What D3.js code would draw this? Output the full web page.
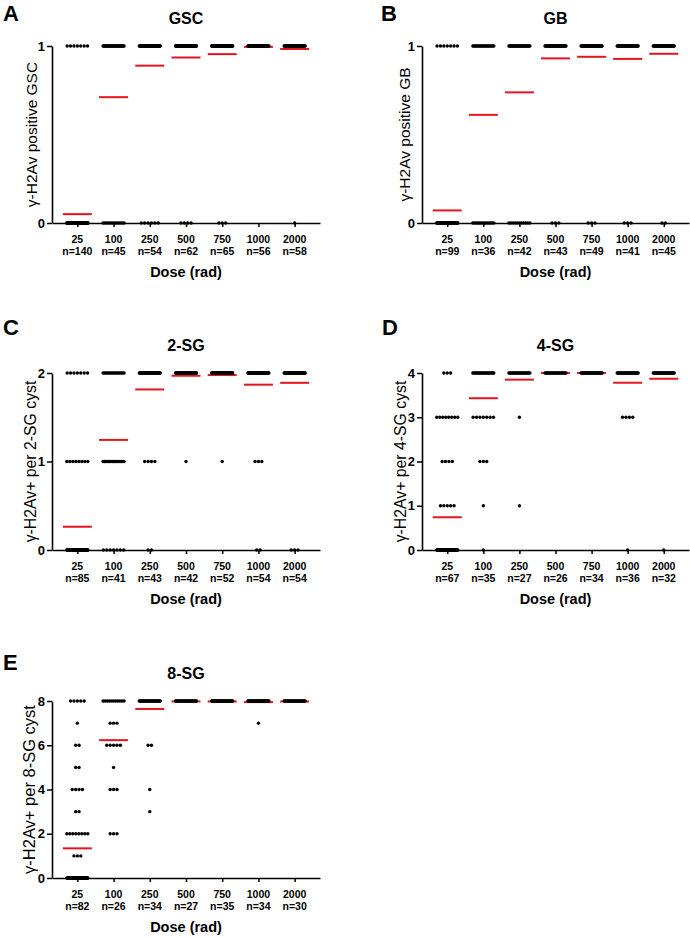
<!DOCTYPE html>
<html><head><meta charset="utf-8">
<script src="https://cdn.jsdelivr.net/npm/d3@7/dist/d3.min.js"></script>
<style>
body{margin:0;background:#fff}
svg text{font-family:"Liberation Sans",Arial,Helvetica,sans-serif;fill:#000}
</style>
</head><body>
<svg id="chart" width="690" height="938"></svg>
<script>
// ---------- DATA ----------
const doses = ["25", "100", "250", "500", "750", "1000", "2000"];

// A: GSC (rows = counts at y-level 0, 1)
const gscN = [140, 45, 54, 62, 65, 56, 58];
const gscCounts = [
  [133, 13, 6, 4, 3, 0, 1],   // value 0
  [7, 32, 48, 58, 62, 56, 57] // value 1
];
const gscMean = [0.05, 0.711, 0.889, 0.935, 0.954, 0.995, 0.983];

// B: GB
const gbN = [99, 36, 42, 43, 49, 41, 45];
const gbCounts = [
  [92, 14, 11, 3, 3, 3, 2],
  [7, 22, 31, 40, 46, 38, 43]
];
const gbMean = [0.071, 0.611, 0.738, 0.930, 0.939, 0.927, 0.956];

// C: 2-SG (values 0..2)
const sg2N = [85, 41, 43, 42, 52, 54, 54];
const sg2Counts = [
  [70, 7, 2, 0, 0, 2, 3],
  [8, 17, 4, 1, 1, 3, 0],
  [7, 17, 37, 41, 51, 49, 51]
];
const sg2Mean = [0.263, 1.244, 1.814, 1.969, 1.977, 1.868, 1.889];

// D: 4-SG (values 0..4)
const sg4N = [67, 35, 27, 26, 34, 36, 32];
const sg4Counts = [
  [47, 1, 0, 0, 0, 1, 1],
  [5, 1, 1, 0, 0, 0, 0],
  [4, 3, 0, 0, 0, 0, 0],
  [8, 7, 1, 0, 0, 4, 0],
  [3, 23, 25, 26, 34, 31, 31]
];
const sg4Mean = [0.74, 3.43, 3.85, 4.0, 4.0, 3.78, 3.87];

// E: 8-SG (values 0..8)
const sg8N = [82, 26, 34, 27, 35, 34, 30];
const sg8Counts = [
  [55, 0, 0, 0, 0, 0, 0],
  [3, 0, 0, 0, 0, 0, 0],
  [8, 3, 0, 0, 0, 0, 0],
  [2, 0, 1, 0, 0, 0, 0],
  [4, 3, 1, 0, 0, 0, 0],
  [2, 1, 0, 0, 0, 0, 0],
  [2, 5, 2, 0, 0, 0, 0],
  [1, 3, 0, 0, 0, 1, 0],
  [5, 11, 30, 27, 35, 33, 30]
];
const sg8Mean = [1.34, 6.23, 7.64, 7.98, 7.98, 7.95, 7.98];

const panels = [
  {letter: "A", title: "GSC", ylabel: "\u03b3-H2Av positive GSC", n: gscN, counts: gscCounts, mean: gscMean, yMax: 1, yTicks: [0, 1]},
  {letter: "B", title: "GB", ylabel: "\u03b3-H2Av positive GB", n: gbN, counts: gbCounts, mean: gbMean, yMax: 1, yTicks: [0, 1]},
  {letter: "C", title: "2-SG", ylabel: "\u03b3-H2Av+ per 2-SG cyst", n: sg2N, counts: sg2Counts, mean: sg2Mean, yMax: 2, yTicks: [0, 1, 2]},
  {letter: "D", title: "4-SG", ylabel: "\u03b3-H2Av+ per 4-SG cyst", n: sg4N, counts: sg4Counts, mean: sg4Mean, yMax: 4, yTicks: [0, 1, 2, 3, 4]},
  {letter: "E", title: "8-SG", ylabel: "\u03b3-H2Av+ per 8-SG cyst", n: sg8N, counts: sg8Counts, mean: sg8Mean, yMax: 8, yTicks: [0, 2, 4, 6, 8]}
];

// ---------- LAYOUT ----------
const layouts = [
  {x0: 52, x1: 320, top: 46, bottom: 223, lx: 3, ly: 21, labX: 37, labFs: 15.5},
  {x0: 422, x1: 689, top: 46, bottom: 223, lx: 381, ly: 21, labX: 410, labFs: 15.5},
  {x0: 52, x1: 320, top: 373, bottom: 550, lx: 3, ly: 335, labX: 36, labFs: 15.8},
  {x0: 422, x1: 689, top: 373, bottom: 550, lx: 382, ly: 335, labX: 406, labFs: 15.8},
  {x0: 52, x1: 320, top: 701, bottom: 878, lx: 3, ly: 670, labX: 35, labFs: 16.5}
];

const svg = d3.select("#chart");
const RED = "#e3161e";
const DOT_R = 1.7, DOT_GAP = 3.4, MAX_SPAN = 21, MEAN_HALF = 14.5;

panels.forEach((p, i) => {
  const L = layouts[i];
  const g = svg.append("g");
  const x = d3.scalePoint().domain(doses).range([L.x0, L.x1]).padding(0.7);
  const y = d3.scaleLinear().domain([0, p.yMax]).range([L.bottom, L.top]);

  // panel letter
  g.append("text").attr("x", L.lx).attr("y", L.ly)
    .attr("font-size", 22).attr("font-weight", "bold").text(p.letter);
  // title
  g.append("text").attr("x", (L.x0 + L.x1) / 2).attr("y", L.top - 22)
    .attr("text-anchor", "middle").attr("font-size", 16).attr("font-weight", "bold").text(p.title);

  // x axis
  const xa = g.append("g").attr("transform", `translate(0,${L.bottom})`)
    .call(d3.axisBottom(x).tickSize(4).tickSizeOuter(0).tickFormat(""));
  // y axis
  const ya = g.append("g").attr("transform", `translate(${L.x0},0)`)
    .call(d3.axisLeft(y).tickValues(p.yTicks).tickSize(5).tickSizeOuter(0).tickPadding(2).tickFormat(d3.format("d")));
  [xa, ya].forEach(a => {
    a.attr("font-family", null);
    a.select(".domain").attr("stroke", "#000").attr("stroke-width", 1.6);
    a.selectAll(".tick line").attr("stroke", "#000").attr("stroke-width", 1.5);
  });
  ya.selectAll(".tick text").attr("font-size", 13).attr("font-weight", "bold").attr("fill", "#000");

  // x tick labels (dose + n)
  const lab = g.append("g");
  lab.selectAll("text.dose").data(doses).join("text").attr("class", "dose")
    .attr("x", d => x(d)).attr("y", L.bottom + 20).attr("text-anchor", "middle")
    .attr("font-size", 10.5).attr("font-weight", "bold").text(d => d);
  lab.selectAll("text.n").data(p.n).join("text").attr("class", "n")
    .attr("x", (d, j) => x(doses[j])).attr("y", L.bottom + 32).attr("text-anchor", "middle")
    .attr("font-size", 10.5).attr("font-weight", "bold").text(d => "n=" + d);

  // axis titles
  g.append("text").attr("x", (L.x0 + L.x1) / 2).attr("y", L.bottom + 54)
    .attr("text-anchor", "middle").attr("font-size", 14.5).attr("font-weight", "bold").text("Dose (rad)");
  g.append("text").attr("transform", `translate(${L.labX},${(L.top + L.bottom) / 2}) rotate(-90)`)
    .attr("text-anchor", "middle").attr("font-size", L.labFs).text(p.ylabel);

  // mean lines
  g.append("g").selectAll("line").data(p.mean).join("line")
    .attr("x1", (d, j) => x(doses[j]) - MEAN_HALF).attr("x2", (d, j) => x(doses[j]) + MEAN_HALF)
    .attr("y1", d => y(d)).attr("y2", d => y(d))
    .attr("stroke", RED).attr("stroke-width", 2);

  // dots
  const dots = [];
  p.counts.forEach((row, level) => {
    row.forEach((k, j) => {
      if (!k) return;
      const gap = k > 1 ? Math.min(DOT_GAP, MAX_SPAN / (k - 1)) : 0;
      for (let m = 0; m < k; m++) {
        dots.push({cx: x(doses[j]) + (m - (k - 1) / 2) * gap, v: level});
      }
    });
  });
  g.append("g").selectAll("circle").data(dots).join("circle")
    .attr("cx", d => d.cx).attr("cy", d => y(d.v)).attr("r", DOT_R).attr("fill", "#000");
});
</script>
</body></html>
